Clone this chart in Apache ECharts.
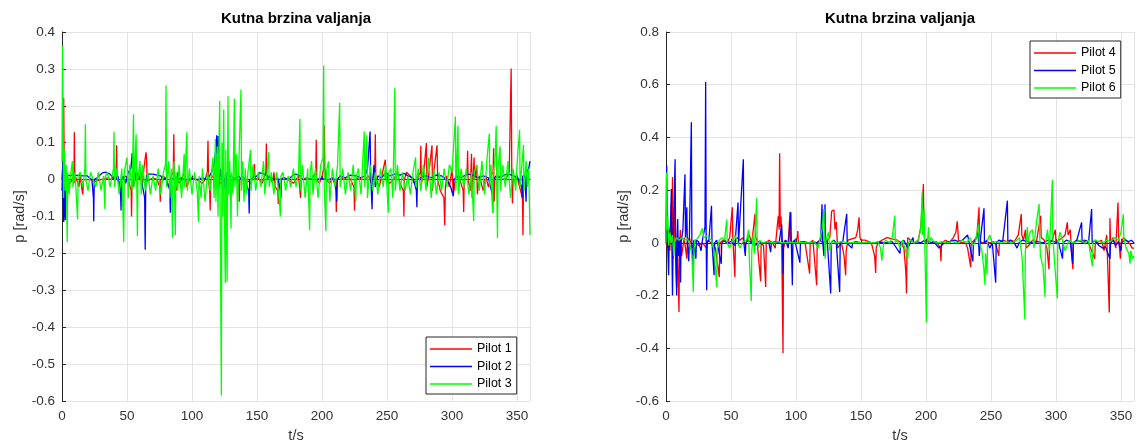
<!DOCTYPE html>
<html>
<head>
<meta charset="utf-8">
<script src="https://cdn.jsdelivr.net/npm/echarts@6/dist/echarts.min.js"></script>
<style>
html,body{margin:0;padding:0;background:#fff;}
#c{width:1137px;height:448px;}
</style>
</head>
<body>
<div id="c"></div>
<script>
// ---- Data: [t (s), p (rad/s)] ----
const titleText = 'Kutna brzina valjanja';
const xName = 't/s';
const yName = 'p [rad/s]';
const leftNames = ['Pilot 1', 'Pilot 2', 'Pilot 3'];
const rightNames = ['Pilot 4', 'Pilot 5', 'Pilot 6'];
const leftYTicks = { min: -0.6, max: 0.4, interval: 0.1 };
const rightYTicks = { min: -0.6, max: 0.8, interval: 0.2 };
const xTicks = { min: 0, max: 360, interval: 50 };

const pilot1 = [[0,0],[0.8,0.05],[1.3,0.222],[1.8,-0.02],[2.5,0.01],[4,0],[6,-0.01],[8,0],[9.2,0.01],[9.5,0.128],[9.9,-0.01],[11,0.005],[13,-0.02],[14,0.01],[15.5,-0.03],[16,-0.04],[16.6,0],[18,0.005],[22,0],[26,-0.005],[30,0],[35,0.005],[38,0],[40,0.01],[41.6,0.02],[42,0.093],[42.4,0],[44,-0.01],[46,0],[49,0.01],[51,0],[53.2,-0.03],[53.5,-0.10],[53.9,0],[55,-0.02],[57,0.01],[59,0],[61,0.02],[62,-0.01],[63,0.03],[64.6,0.074],[65,0.06],[65.5,-0.005],[67,0],[70,0.005],[73,0],[75.3,-0.02],[75.6,-0.06],[76,0],[78,0.01],[80,0],[82,-0.02],[84,0.01],[85.6,0.02],[86,0.123],[86.4,0.01],[88,-0.03],[89,0.02],[90,-0.01],[92,0],[94,0.02],[96,-0.02],[98,0],[100,0.005],[104,0],[108,-0.01],[110,0],[111.8,0.02],[112.3,0.105],[112.7,0],[113.6,-0.03],[114,-0.084],[114.4,0],[116,0.01],[118,0],[122,-0.01],[125,0],[128,0.01],[130,-0.02],[132,0],[134,0.01],[136,-0.02],[136.4,-0.06],[136.8,0],[139,0.005],[142,0],[145,-0.01],[147.5,0.01],[148,0.042],[148.5,0],[151,0.005],[154,-0.01],[156.8,0.02],[157.2,0.098],[157.6,0],[160,0.01],[162,-0.01],[163,0.02],[164,-0.02],[166,-0.03],[166.4,-0.066],[166.8,0],[170,0.005],[174,0],[178,-0.01],[180,0],[182,0.01],[183.5,-0.05],[184,0],[188,0.005],[192,0],[195.2,0.02],[195.6,0.108],[196,0],[198,-0.01],[200,0.01],[201.4,0.03],[201.8,0.146],[202.2,0.03],[203,0],[206,-0.01],[208,0.005],[210.6,-0.02],[211,-0.088],[211.4,0],[214,0.01],[217,0],[220,0.01],[222,0],[224.6,-0.02],[225,-0.084],[225.4,0],[228,0.005],[232,0],[236,0.01],[238,-0.01],[240.6,0.02],[241,0.123],[241.4,0],[244,-0.02],[246,0.01],[248.7,0.054],[249.2,0],[252,-0.01],[255,0],[258,0.02],[260,-0.01],[262.6,-0.03],[263,-0.10],[263.4,0],[265,0.02],[268,0.01],[271,-0.01],[273,0],[275.6,0.02],[276,0.092],[276.4,-0.01],[278,0.01],[280.3,0.099],[280.7,-0.02],[282,0.01],[284.6,0.093],[285,-0.03],[286,0.02],[288.5,0.093],[289,0],[291,-0.03],[293.8,-0.05],[294.4,-0.124],[294.9,-0.02],[296,0.01],[298,-0.02],[300,0.03],[301,-0.04],[303,0.01],[306,0],[308.6,-0.03],[309,-0.088],[309.4,0],[311.6,0.02],[312,0.078],[312.4,0],[314,-0.03],[315,0.07],[315.5,-0.05],[317,0.06],[317.4,0],[319,0.04],[319.5,-0.04],[321,0.01],[324,-0.03],[326,0.01],[328,-0.02],[330,0.01],[331.6,0.02],[332,0.085],[332.4,-0.06],[333,0],[336,0.01],[339,0],[342,0.005],[344,0.02],[345.5,0.301],[346,0.02],[346.5,-0.065],[347,0],[350,0.01],[352,-0.02],[354.2,-0.05],[354.6,-0.151],[355,0],[357,0.01],[360,0]];

const pilot2 = [[0,-0.03],[0.6,0.05],[1,-0.06],[1.3,-0.115],[1.8,-0.02],[2.5,-0.11],[3,0],[4,0.01],[7,0.012],[10,0.011],[13,0.012],[16,0.01],[19,0.011],[21,0.005],[23,0],[24.2,-0.05],[24.4,-0.113],[24.8,0],[27,0.005],[29,0.012],[31,0.018],[34,0.02],[37,0.015],[39,0.005],[41,0],[43,0.01],[45,-0.03],[45.4,-0.084],[45.8,0],[47,0.01],[49,-0.01],[51,0.02],[53,0.03],[54,0.072],[54.4,0.02],[55,-0.01],[57,0.02],[59,0.01],[61,0],[63.6,-0.05],[64,-0.19],[64.4,-0.02],[65,0.01],[67,0.015],[70,0.015],[73,0.012],[76,0.01],[78,0],[80,0.005],[83,-0.03],[83.3,-0.09],[83.7,0],[86,0.005],[89,0],[92,0.005],[95,0],[100,0.002],[104,0],[108,0.005],[112,0],[115,0.02],[117,0.04],[118.6,0.09],[119,0.12],[119.4,0.02],[120.2,0.118],[120.6,-0.02],[122,0.03],[124,-0.04],[126,0.02],[127.2,-0.05],[127.6,0],[130,0.01],[133,0],[136,0.01],[138,0],[140,0.005],[143.6,-0.03],[144,-0.092],[144.4,0],[147,0.005],[150,0.01],[152,0.018],[155,0.016],[158,0.01],[160,0.005],[163,0],[166,0.005],[168,-0.03],[168.4,-0.05],[168.8,0],[171,0.005],[174,0],[177,0.01],[180,0.015],[183,0.01],[185,0],[190,0.002],[195,0],[200,0.003],[205,0],[209,0.005],[211,-0.03],[211.4,-0.06],[211.8,0],[214,0.01],[218,0.005],[222,0.012],[226,0.01],[230,0.005],[233,0.01],[235,0.03],[237,0.13],[237.4,0.02],[238.5,-0.08],[238.9,-0.01],[240,0.04],[241,-0.02],[243,0.01],[246,0.005],[249,0.02],[252,0.01],[256,0.015],[260,0.012],[263,0.017],[266,0.01],[270,0.005],[272.6,-0.03],[273,-0.075],[273.4,0],[276,0.005],[280,0.01],[284,0.005],[288,0.012],[292,0.01],[296,0],[299,-0.02],[301,-0.045],[301.4,0],[304,0.01],[307,0.005],[310,0.012],[313,0.015],[316,0.012],[320,0.005],[324,0.01],[328,0.005],[331,-0.04],[331.3,-0.09],[331.7,0],[334,0.01],[337,0.005],[340,0.012],[343,0.015],[346,0.012],[349,0.008],[351,0.003],[353.6,-0.02],[354,-0.05],[354.4,0.01],[356,0.01],[357,-0.06],[357.4,0.02],[359,0.03],[360,0.05]];

const pilot3 = [[0,0.05],[0.4,0.363],[0.8,0.2],[1.2,-0.05],[1.8,0.08],[2.5,-0.03],[3.2,0.04],[4,-0.17],[4.4,0.02],[5.5,-0.04],[6.5,0.01],[8,0.05],[8.4,-0.02],[10,0.02],[12,-0.108],[12.4,0.01],[14,0.02],[16,-0.02],[17.6,0.03],[18,0.15],[18.4,0],[20,-0.03],[22,0.02],[24,0],[26,-0.02],[28,0.02],[30,-0.03],[32,0.01],[33,-0.08],[33.4,0.01],[35,0.02],[37,-0.02],[39.6,0.03],[40,0.13],[40.4,-0.02],[42,0.03],[44,-0.04],[46,0.03],[47.5,-0.17],[47.9,0.02],[50,0.06],[51,-0.05],[52,0.04],[54,-0.03],[55,0.177],[55.4,-0.02],[57,0.123],[57.4,0.02],[58,-0.153],[58.4,0],[60,0.05],[61,-0.04],[62,0.04],[64,-0.03],[66,0.02],[68,-0.04],[70,0.01],[72,-0.03],[74,0.03],[76,-0.04],[78,0.02],[79.6,0.04],[80,0.255],[80.4,-0.02],[82,0.05],[83,-0.05],[84,0.03],[85,-0.158],[85.4,0.02],[86.2,0.05],[87.2,-0.151],[87.6,0.02],[89,-0.03],[90,0.04],[92,-0.05],[94,0.07],[94.4,-0.02],[96,0.128],[96.4,-0.03],[98,0.03],[100,-0.04],[102,0.02],[104,-0.03],[105,-0.115],[105.4,0.01],[107,-0.05],[108,0.03],[110,-0.06],[112,0.02],[114,-0.03],[116,0.06],[117,-0.05],[118,0.11],[118.4,-0.06],[119.5,0.09],[120,-0.1],[120.6,0.06],[121.3,0.213],[121.7,-0.1],[122.6,-0.585],[123,0.1],[123.6,-0.1],[124.4,0.19],[124.8,-0.05],[125.6,-0.28],[126,0.08],[126.5,-0.12],[127,-0.277],[127.4,0.05],[127.7,0.226],[128.1,-0.04],[129,0.05],[130,-0.133],[130.4,0.02],[131.5,-0.04],[132.6,0.22],[133,-0.02],[134,0.07],[135,-0.1],[136,0.04],[137.7,0.244],[138.1,-0.03],[139,0.05],[140,-0.06],[141,0.03],[142,-0.04],[143,0.02],[145,0.08],[145.4,-0.03],[147,0.04],[149,-0.03],[151,0.02],[153,-0.02],[155,0.05],[156,-0.04],[158,0.03],[159,0.074],[159.4,-0.02],[161,0.02],[163,-0.04],[165,0.02],[167,-0.05],[168,-0.1],[168.4,0.01],[170,0.02],[172,-0.03],[174,0.01],[176,-0.02],[178,0.03],[180,-0.02],[182,0.02],[183,0.164],[183.4,-0.03],[185,0.04],[187,-0.05],[189,0.03],[190.5,-0.137],[190.9,0.02],[192,0.05],[193,-0.04],[195,0.03],[197,-0.05],[199,0.04],[200.8,0.06],[201.3,0.309],[201.7,-0.02],[203,-0.14],[203.4,0.02],[205,0.05],[206,-0.06],[208,0.03],[210,-0.02],[212,0.04],[213.6,0.208],[214,-0.02],[216,0.03],[218,-0.04],[220,0.02],[222,-0.03],[224,0.04],[226,-0.06],[226.4,0.01],[228,0.03],[230,-0.04],[232.5,0.13],[232.9,-0.02],[234.5,0.12],[235,-0.05],[237,0.04],[239,-0.03],[241,0.02],[243,-0.04],[245,0.03],[247,-0.02],[249,0.04],[251,-0.09],[251.4,0.02],[253,0.03],[254.5,-0.05],[256,0.249],[256.4,-0.03],[258,0.04],[260,-0.03],[262,0.02],[264,-0.03],[266,0.01],[268,-0.04],[270,0.02],[272,0.06],[272.4,-0.02],[274,0.03],[276,-0.03],[278,0.04],[280,-0.03],[282,0.06],[284,-0.05],[286,0.03],[288,-0.04],[290,0.02],[292,-0.03],[294,0.03],[296,-0.02],[298,0.04],[300,0.02],[302.6,0.171],[303,-0.03],[304.6,0.146],[305,-0.04],[307,0.03],[309,-0.02],[311,0.03],[313,-0.04],[315,0.02],[316.7,-0.112],[317.1,0.02],[319,0.04],[321,-0.03],[323,0.05],[325,-0.04],[327,0.06],[328.7,0.125],[329.1,-0.02],[330,0.04],[331.3,-0.09],[331.7,0.02],[333,0.05],[334,0.145],[334.4,-0.02],[335,-0.158],[335.4,0.03],[337,0.09],[337.4,-0.03],[339,0.04],[341,-0.02],[343,0.05],[345,-0.05],[347,0.03],[349,-0.03],[350,0.04],[352,0.135],[352.4,-0.02],[354,0.05],[355,0.094],[355.4,-0.03],[357,0.05],[358,-0.02],[359,0.03],[360,-0.15]];

const pilot4 = [[0,0.02],[0.6,0.12],[1,-0.02],[2,0.05],[3,-0.03],[4,0.15],[4.4,0],[5,0.25],[5.4,-0.06],[6,0.03],[6.8,0.14],[7.2,-0.03],[8.2,-0.17],[8.6,0.02],[10,-0.262],[10.4,-0.02],[11,0.05],[12,-0.05],[14,0.02],[16,-0.06],[16.4,0],[18,0.02],[20,-0.02],[22,0.01],[25,-0.01],[28,0],[31.3,-0.02],[32,0.01],[35,0],[38,-0.02],[41,-0.13],[41.4,0],[44,0.01],[47,0],[49,0.02],[51,0.135],[51.4,0.02],[53,-0.13],[53.4,0.01],[55,0.02],[57,0.01],[59,0.02],[61,-0.01],[63,0.02],[64,0.03],[66,0],[68.5,0.11],[68.9,0.02],[70,0.01],[72.8,-0.146],[73.2,0],[75,-0.01],[76.7,-0.167],[77.1,0],[79,0.01],[82,0],[84,-0.02],[85.5,0.06],[86.4,0.103],[87,0.05],[87.4,0.34],[87.9,0.06],[88.5,0.1],[89,0],[90,-0.419],[90.4,-0.02],[92,0.01],[94,0],[95.4,0.118],[95.8,0],[98,0.005],[101,0.02],[101.4,0.045],[101.8,0],[104,0.005],[107,0],[110.5,-0.117],[110.9,0],[113,0.01],[115.9,-0.161],[116.3,0],[118,0.01],[121,0],[124,0.01],[126,0.02],[127.4,0.12],[129.2,0.125],[130,0.05],[131,0.08],[132,-0.02],[135,0],[137,-0.05],[138.2,-0.123],[138.6,-0.03],[140,0.01],[143,0.015],[146,0.02],[147.5,0.05],[148.5,0.097],[149.2,0.02],[150,0.01],[153,0.01],[156,0.005],[158,0],[160.5,-0.05],[161.3,-0.114],[161.7,-0.02],[163,0],[166,0.01],[170,0.02],[174,0.015],[178,0.01],[181,0],[183,-0.02],[184.5,-0.11],[185,-0.192],[185.4,-0.03],[186,0.02],[188,0.01],[191,0],[194,0.01],[196,0.06],[197.2,0.15],[198,0.223],[198.4,0.05],[199,0],[201,0.01],[204,0],[208,0.005],[211,-0.02],[211.5,-0.07],[212,0],[215,0.01],[218,0],[221,0.02],[223,0.04],[224,0.082],[224.5,0.05],[225,0.01],[227,0],[230,0.005],[232,-0.02],[234.4,-0.092],[234.8,0],[237,0.01],[239,0.02],[240.8,0.135],[241.2,0.01],[243,0],[246,0.005],[249,0],[252,0.005],[254,-0.01],[256,-0.05],[256.4,0],[259,0.01],[262,0.005],[265,0.01],[268,0.005],[271,0.03],[273.3,0.109],[273.7,0.03],[275,0.01],[276.5,0.05],[277,-0.02],[279,-0.01],[282,0.01],[285,0.005],[288.2,0.103],[288.6,0.02],[291,0.01],[293,-0.02],[294.6,-0.1],[295,0],[297,0.01],[299.5,0.05],[300,0],[302,0.01],[305,0.02],[307,0.03],[308.7,0.078],[309.3,0.03],[311,0.05],[311.5,0],[313,-0.1],[313.4,0],[316,0.01],[319,0.005],[322,0.01],[325,0],[329.8,-0.06],[330.2,0],[333,0.005],[335,0.01],[337,-0.03],[339,0.03],[341,-0.264],[341.5,0.093],[342,0],[344,0.02],[346,-0.02],[347.7,0.153],[348.2,0.02],[349.5,-0.06],[350,0],[352,0.02],[354,0.01],[357,-0.005],[358.5,-0.02],[360,-0.02]];

const pilot5 = [[0,0],[0.5,0.294],[1,0.05],[2,-0.123],[2.5,0.02],[3.5,0.07],[4.1,0.204],[4.5,0],[5,-0.2],[5.5,0.02],[6.2,0.15],[7,0.317],[7.4,0],[8.2,-0.2],[8.6,0.02],[9,0.09],[9.5,-0.05],[10.5,0.02],[11.2,-0.15],[11.6,0],[13,0.05],[14.6,0.26],[15,0.02],[16,0.135],[16.4,0],[17.5,-0.07],[18,0.02],[19.5,0.458],[19.9,0],[21,-0.123],[21.4,0.01],[23,-0.06],[23.4,0.01],[25,0.005],[27,-0.03],[28,0.01],[30,0.06],[30.5,0.61],[30.9,0.02],[31.3,-0.18],[31.7,0],[33,0.01],[35,0.141],[35.4,0],[37,-0.123],[37.4,0],[39,0.01],[42.5,-0.08],[42.9,0],[45,0.01],[47,0],[50,0.005],[53,-0.01],[55.4,0.153],[55.8,0],[57,0.005],[59.5,0.317],[59.9,0],[61,-0.05],[61.4,0],[63,0.01],[66,0],[69,-0.01],[71,0.005],[75,0],[79,0.005],[80.5,-0.035],[81,0],[84,0.005],[87,0],[89,0.07],[89.5,0],[90,-0.117],[90.4,0],[92,0.01],[94,-0.02],[96,0.116],[96.4,0],[97.2,-0.161],[97.6,0],[99,0.01],[103,-0.075],[103.4,0],[106,0.005],[110,0],[113,0.005],[116,0],[119,0.01],[120,0.146],[120.4,0.01],[121.5,-0.05],[122.3,0.146],[122.7,0],[124,0.01],[126.7,-0.192],[127.1,0],[129,0.01],[131,0],[133.6,-0.186],[134,0],[136,0.005],[139,0.11],[139.4,0],[141,-0.01],[143,-0.02],[143.5,0],[146,0.005],[150,0],[155,0.002],[160,0],[165,0.003],[170,0],[174,0.005],[176,-0.01],[180,-0.04],[180.5,0],[183,0.01],[186,-0.02],[190,0.02],[190.5,0],[193,0.005],[196,0],[199,0.01],[203,0],[206,0.005],[210,-0.02],[214,0],[218,0.005],[222,0.01],[225,0.005],[228,0.01],[232,0.03],[236,-0.07],[236.5,0],[238,0.01],[240,0.04],[241,-0.05],[242,0.02],[244.6,0.131],[245,0],[247,0.01],[249,-0.02],[251,0],[253.6,-0.151],[254,0],[256,0.01],[259,0.005],[262.6,0.16],[263,0],[265,0.01],[268,0],[270,-0.02],[271.5,0],[274,0.01],[278,0.005],[282,0],[286,0.005],[290,0],[294,0.01],[298,0.005],[302,0],[305,-0.06],[305.5,0],[308,0.01],[311,0.005],[312.8,-0.08],[313.2,0],[316,0.01],[319.7,0.078],[320.1,0],[323,0.01],[325,0],[327.4,0.128],[327.8,0],[330,0.01],[333,-0.01],[336,-0.02],[338,-0.015],[341.5,-0.06],[342,0],[344,0.01],[346,-0.01],[348,0.005],[350,-0.03],[350.5,0],[353,0.01],[356,0.005],[358,0.01],[360,0]];

const pilot6 = [[0,0],[0.4,0.267],[0.8,0.05],[1.5,0.1],[2,-0.01],[3,0.04],[4,0],[5,0.03],[6,-0.05],[6.5,0],[8,0.02],[10,0.01],[12,0.02],[14,0.01],[16,0.015],[18,0.005],[20,-0.05],[21,-0.186],[21.4,-0.05],[22,0.01],[24,0.015],[26,0.03],[28,0.055],[29,0.02],[31,0.025],[33,0.02],[35,0.01],[37,-0.03],[39,-0.167],[39.4,-0.02],[41,0.01],[43,0.02],[45,0.01],[46.7,0.088],[47.1,0],[49,-0.02],[51,0.01],[53,0.03],[55,0],[57,-0.02],[59,0.005],[62,0.01],[63.5,0.05],[64,-0.05],[65.6,-0.221],[66,-0.03],[67,0.03],[68,-0.04],[69.7,0.169],[70.1,0.02],[71,-0.02],[72,0.01],[74,0],[78,0.005],[82,0],[86,0.005],[90,0],[95,0.003],[100,0],[105,0.002],[110,0],[114,0.005],[117,-0.02],[119,0.03],[120,0.05],[121.5,0.128],[121.9,0],[122.5,-0.06],[123,0.01],[125,0.04],[126,-0.03],[128,0.01],[130,0],[135,0.005],[140,0],[145,0.002],[150,0],[155,0.003],[160,0],[163,0.005],[165,-0.02],[166,-0.067],[167,-0.06],[167.5,0],[169,0.01],[172,0],[174,0.02],[176,0.103],[176.4,0],[178,0.01],[180,-0.02],[182,0.01],[186,-0.06],[186.4,0],[188,0.01],[191,0],[194,0.01],[196,0.05],[197,0.191],[197.4,0.03],[198.5,0.13],[199,0.01],[200.3,-0.302],[200.7,-0.02],[202,0.06],[202.5,0],[204,0.02],[206,0.005],[209,0],[212,0.005],[216,0],[220,0.005],[224,0],[228,0.01],[231,0],[234,0.02],[236,-0.01],[238,0.005],[240.5,0.07],[241,0],[243,-0.03],[244.5,-0.1],[245.4,-0.161],[245.8,-0.04],[247,-0.12],[247.4,0.01],[249,0.03],[251,0],[254,0.005],[258,0],[262,0.005],[266,0],[270,0.01],[272,0.02],[274,-0.06],[276,-0.29],[276.4,-0.03],[278,0.06],[278.5,0],[280,0.04],[282,0.05],[283,-0.02],[285,0.08],[287,0.147],[287.4,0.04],[288,-0.05],[290,-0.09],[291.5,-0.205],[292,0],[293.5,0.05],[295,-0.03],[296,0.1],[297.2,0.239],[297.6,0.02],[299,-0.08],[301,-0.211],[301.4,0],[303,0.04],[305,0.01],[307,-0.03],[310,0.01],[313,0],[316,0.005],[319,0.01],[322,0],[325,0.01],[326,-0.03],[328,-0.089],[328.4,0],[330,0.01],[333,0.005],[336,0],[339,0.01],[342,0.005],[345,0.02],[348,0.01],[350,0.04],[351.8,0.108],[352.2,0.02],[354,-0.02],[356,-0.04],[357,-0.079],[357.5,-0.03],[359,-0.06],[360,-0.05]];

const colors = ['#ff0000', '#0000ff', '#00ff00'];

// ---- Chart ----
const FONT = '"Liberation Sans", Arial, Helvetica, sans-serif';
const TXT = '#333333';
const AX = '#262626';
const GRID = '#e3e3e3';

function fmt(v) {
  const r = Math.round(v * 10) / 10;
  return r === 0 ? '0' : String(r);
}

function xAxis(gi) {
  return {
    type: 'value', gridIndex: gi, min: xTicks.min, max: xTicks.max, interval: xTicks.interval,
    name: xName, nameLocation: 'middle', nameGap: 27,
    nameTextStyle: { fontFamily: FONT, fontSize: 14.5, color: TXT },
    axisLine: { show: true, lineStyle: { color: AX, width: 1 } },
    axisTick: { show: true, inside: true, length: 4, lineStyle: { color: AX } },
    axisLabel: { fontFamily: FONT, fontSize: 13.5, color: TXT, margin: 8, showMaxLabel: false },
    splitLine: { show: true, lineStyle: { color: GRID, width: 1 } }
  };
}
function yAxis(gi, t) {
  return {
    type: 'value', gridIndex: gi, min: t.min, max: t.max, interval: t.interval,
    name: yName, nameLocation: 'middle', nameGap: 34, nameRotate: 90,
    nameTextStyle: { fontFamily: FONT, fontSize: 14.5, color: TXT },
    axisLine: { show: true, lineStyle: { color: AX, width: 1 } },
    axisTick: { show: true, inside: true, length: 4, lineStyle: { color: AX } },
    axisLabel: { fontFamily: FONT, fontSize: 13.5, color: TXT, margin: 7, formatter: fmt },
    splitLine: { show: true, lineStyle: { color: GRID, width: 1 } }
  };
}
function lineSeries(name, data, color, gi) {
  return {
    name: name, type: 'line', data: data, xAxisIndex: gi, yAxisIndex: gi,
    showSymbol: false, symbol: 'none', color: color,
    lineStyle: { color: color, width: 1.3 }, animation: false, clip: true
  };
}
function legend(names, left, top) {
  return {
    data: names, orient: 'vertical', left: left, top: top,
    icon: 'rect', itemWidth: 42, itemHeight: 1.3, itemGap: 3.5,
    padding: [5, 5, 3, 4], borderColor: '#262626', borderWidth: 1, backgroundColor: '#fff',
    textStyle: { fontFamily: FONT, fontSize: 12.5, color: '#000', lineHeight: 14 },
    selectedMode: false
  };
}

const chart = echarts.init(document.getElementById('c'), null, { renderer: 'canvas' });
chart.setOption({
  animation: false,
  backgroundColor: '#fff',
  title: [
    { text: titleText, left: 296, top: 11, textAlign: 'center', padding: 0,
      textStyle: { fontFamily: FONT, fontSize: 15, fontWeight: 'bold', color: '#000' } },
    { text: titleText, left: 900, top: 11, textAlign: 'center', padding: 0,
      textStyle: { fontFamily: FONT, fontSize: 15, fontWeight: 'bold', color: '#000' } }
  ],
  grid: [
    { left: 62, right: 607, top: 32, bottom: 45 },
    { left: 666, right: 3, top: 32, bottom: 45 }
  ],
  xAxis: [xAxis(0), xAxis(1)],
  yAxis: [yAxis(0, leftYTicks), yAxis(1, rightYTicks)],
  legend: [legend(leftNames, 426, 337), legend(rightNames, 1030, 41)],
  series: [
    lineSeries(leftNames[0], pilot1, colors[0], 0),
    lineSeries(leftNames[1], pilot2, colors[1], 0),
    lineSeries(leftNames[2], pilot3, colors[2], 0),
    lineSeries(rightNames[0], pilot4, colors[0], 1),
    lineSeries(rightNames[1], pilot5, colors[1], 1),
    lineSeries(rightNames[2], pilot6, colors[2], 1)
  ]
});
</script>
</body>
</html>
